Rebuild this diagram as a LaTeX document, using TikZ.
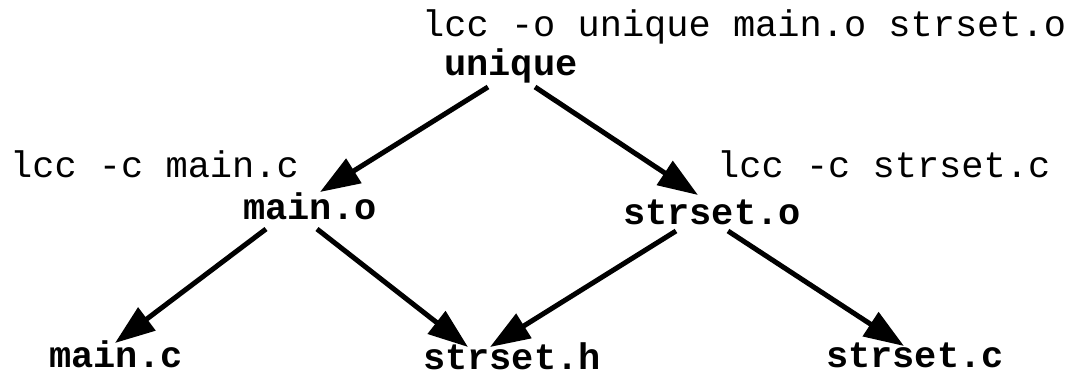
\documentclass[tikz,border=0pt]{standalone}
\usepackage{fontspec}
\setmonofont{Liberation Mono}
\usetikzlibrary{arrows.meta,calc}
\tikzset{
  cmd/.style={font=\ttfamily\fontsize{37}{37}\selectfont, inner sep=0pt, anchor=base west},
  file/.style={font=\ttfamily\bfseries\fontsize{37}{37}\selectfont, inner sep=0pt, anchor=base},
  dep/.style={line width=5pt, -{Triangle[length=40pt,width=28pt]}}
}
\begin{document}
\begin{tikzpicture}[x=1pt,y=-1pt]
\useasboundingbox (0,0) rectangle (1074,375);
% build commands
\node[cmd] (linkcmd) at (422,36) {lcc -o unique main.o strset.o};
\node[cmd] (ccmain) at (10,177) {lcc -c main.c};
\node[cmd] (ccstr) at (717,177) {lcc -c strset.c};
% targets and sources
\node[file] (unique) at (511,75) {unique};
\node[file] (maino) at (310,219) {main.o};
\node[file] (strseto) at (712,224) {strset.o};
\node[file] (mainc) at (116,367) {main.c};
\node[file] (strseth) at (512,369) {strset.h};
\node[file] (strsetc) at (915,367) {strset.c};
% dependencies
\draw[dep] ($(unique.base)+(-23,12)$) -- ($(maino.base)+(10,-27)$);
\draw[dep] ($(unique.base)+(24,12)$) -- ($(strseto.base)+(-14,-29)$);
\draw[dep] ($(maino.base)+(-44,10)$) -- ($(mainc.base)+(-1,-24)$);
\draw[dep] ($(maino.base)+(7,10)$) -- ($(strseth.base)+(-44,-22)$);
\draw[dep] ($(strseto.base)+(-36,7)$) -- ($(strseth.base)+(-22,-22)$);
\draw[dep] ($(strseto.base)+(16,7)$) -- ($(strsetc.base)+(-11,-21)$);
\end{tikzpicture}
\end{document}
